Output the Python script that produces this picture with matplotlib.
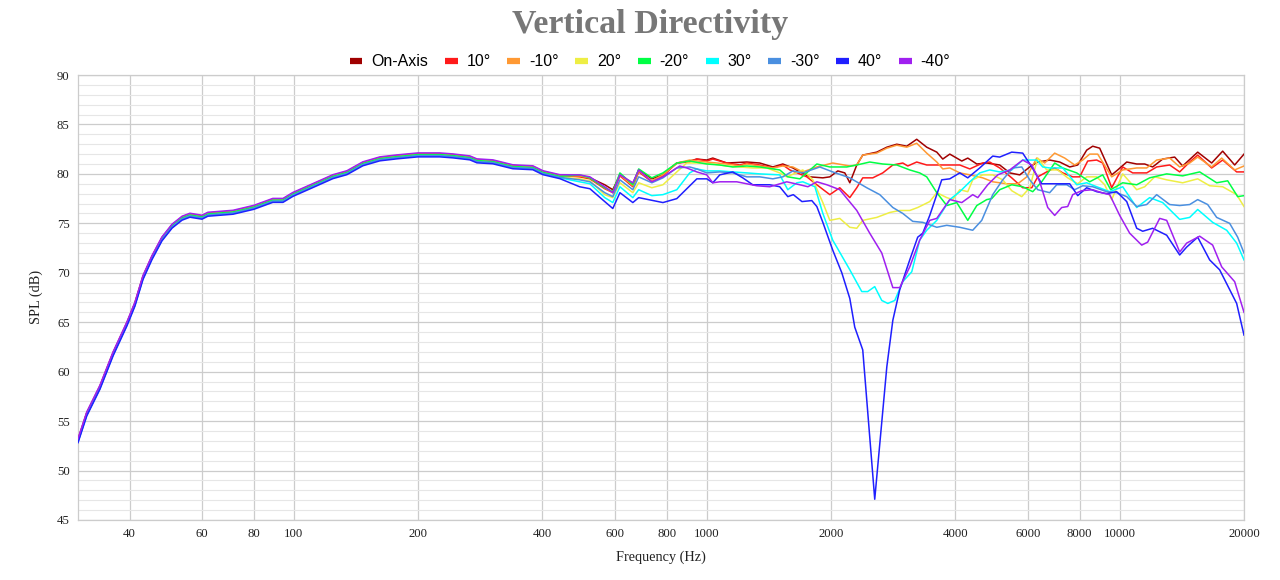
import matplotlib
matplotlib.use("Agg")
import matplotlib.pyplot as plt
from matplotlib.lines import Line2D
from matplotlib.ticker import FixedLocator, NullLocator

# below ~450 Hz all angles sit on top of each other (values of the on-axis curve)
low_freq = [30, 31.5, 33.9, 36.5, 39.4, 41.2, 43.1, 45.3, 47.9, 50.7, 53.6, 56, 59.9, 61.9, 71.2, 80,
            88.9, 94.1, 99.4, 111.2, 124.3, 134.4, 146.9, 161.5, 177.6, 199.7, 225.6, 242.7, 266.7,
            277.4, 303.3, 339, 379, 401, 440.6]
low_spl = [53.1, 55.8, 58.5, 61.9, 64.9, 66.9, 69.6, 71.6, 73.5, 74.8, 75.6, 75.9, 75.7, 76.0, 76.2, 76.7,
           77.4, 77.4, 78.0, 78.9, 79.8, 80.2, 81.1, 81.6, 81.8, 82.0, 82.0, 81.9, 81.7,
           81.4, 81.3, 80.8, 80.7, 80.2, 79.8]

names = ['On-Axis', '10°', '-10°', '20°', '-20°', '30°', '-30°', '40°', '-40°']
colors = ['#a00000', '#ff1a1a', '#ff9933', '#eeee44', '#00ff44', '#00ffff', '#4a8fe0', '#1f1fff', '#a020f0']
# small spread of the angles inside the low band
low_shift = [0.0, 0.05, 0.0, -0.1, -0.05, -0.2, -0.15, -0.28, 0.12]

f_on = [492, 521, 566, 592, 616, 662, 684, 736, 783, 846, 909, 946, 1000, 1034, 1118, 1250, 1344, 1445, 1528, 1616,
        1680, 1777, 1910, 1986, 2076, 2159, 2220, 2308, 2386, 2580, 2729, 2884, 3050, 3224, 3409, 3606, 3728, 3877,
        4145, 4286, 4507, 4764, 5121, 5416, 5727, 6055, 6331, 6768, 7156, 7568, 7912, 8318, 8602, 8944, 9563, 9890,
        10399, 10995, 11496, 12019, 12707, 13588, 14207, 15449, 16700, 17758, 18986, 20000]
db_on = [79.8, 79.6, 78.9, 78.4, 79.9, 79.0, 80.4, 79.5, 79.9, 81.1, 81.3, 81.5, 81.4, 81.6, 81.1, 81.2, 81.1, 80.7, 81.0, 80.6,
         80.2, 79.7, 79.6, 79.7, 80.3, 80.1, 79.1, 80.9, 81.9, 82.2, 82.7, 83.0, 82.8, 83.5, 82.7, 82.2, 81.5, 82.0,
         81.3, 81.6, 81.0, 81.1, 80.9, 80.1, 79.9, 80.7, 81.2, 81.4, 81.2, 80.7, 80.9, 82.4, 82.8, 82.6, 79.9, 80.4,
         81.2, 81.0, 81.0, 80.7, 81.5, 81.7, 80.8, 82.2, 81.1, 82.3, 80.9, 82.0]

f_p10 = [492, 521, 566, 592, 616, 662, 684, 736, 783, 846, 909, 946, 1000, 1034, 1118, 1202, 1250, 1344, 1445, 1528,
         1589, 1747, 1847, 1986, 2099, 2220, 2308, 2386, 2523, 2668, 2822, 2983, 3067, 3224, 3409, 3606, 3877, 4099,
         4335, 4659, 4843, 5121, 5476, 5823, 6124, 6331, 6656, 6959, 7278, 7695, 8000, 8366, 8796, 9095, 9563, 10169,
         10752, 11625, 12289, 13215, 13972, 14774, 15449, 16700, 17758, 19198, 20000]
db_p10 = [79.7, 79.5, 78.5, 78.1, 79.8, 78.7, 80.2, 79.2, 79.8, 81.1, 81.2, 81.5, 81.3, 81.5, 81.1, 80.9, 81.1, 80.9, 80.6, 80.9,
          80.4, 79.7, 78.9, 77.9, 78.6, 77.6, 78.6, 79.6, 79.6, 80.1, 80.9, 81.1, 80.8, 81.2, 80.9, 80.9, 80.9, 80.9,
          80.5, 81.1, 81.2, 80.6, 79.6, 78.6, 78.6, 79.7, 80.2, 80.6, 80.1, 79.7, 79.7, 81.3, 81.4, 81.1, 78.6, 80.7,
          80.1, 80.1, 80.7, 80.9, 80.2, 81.2, 81.9, 80.6, 81.4, 80.2, 80.2]

f_m10 = [492, 521, 566, 592, 616, 662, 684, 736, 783, 846, 909, 1000, 1118, 1202, 1250, 1344, 1445, 1528, 1616, 1708,
         1847, 2018, 2220, 2308, 2386, 2580, 2729, 2884, 3050, 3224, 3409, 3606, 3728, 3877, 4099, 4335, 4659, 4926,
         5326, 5663, 5954, 6295, 6582, 6959, 7359, 7781, 8136, 8459, 8845, 9563, 10169, 10995, 11625, 12289, 13215,
         13972, 14774, 15449, 16700, 17660, 18986, 20000]
db_m10 = [79.8, 79.6, 78.6, 78.1, 79.9, 78.8, 80.3, 79.3, 79.9, 81.1, 81.4, 81.2, 81.0, 80.8, 81.0, 80.8, 80.6, 80.8, 80.7, 80.2,
          80.7, 81.1, 80.8, 80.9, 81.9, 82.1, 82.6, 82.9, 82.7, 83.1, 82.1, 81.2, 80.5, 80.6, 80.1, 79.9, 79.6, 79.2,
          79.0, 79.0, 79.7, 81.6, 81.1, 82.1, 81.6, 80.9, 81.4, 82.0, 82.0, 79.7, 80.4, 80.6, 80.6, 81.4, 81.6,
          80.7, 81.1, 81.7, 80.7, 81.6, 80.4, 80.8]

f_p20 = [492, 521, 566, 592, 616, 662, 684, 736, 783, 846, 894, 946, 1034, 1118, 1202, 1292, 1397, 1502, 1562, 1708,
         1806, 1910, 1986, 2099, 2220, 2308, 2386, 2580, 2775, 2933, 3101, 3242, 3467, 3606, 3812, 3942, 4099, 4286,
         4406, 4659, 4926, 5208, 5476, 5791, 6055, 6331, 6656, 7078, 7483, 7912, 8318, 8796, 9197, 9563, 10169,
         10995, 11496, 12153, 12995, 14207, 15449, 16515, 17758, 19198, 20000]
db_p20 = [79.5, 79.3, 77.9, 77.6, 79.1, 78.1, 79.1, 78.6, 78.9, 80.2, 81.1, 81.1, 81.0, 80.8, 80.7, 80.6, 80.6, 80.1, 79.7, 80.4,
          79.4, 77.1, 75.3, 75.5, 74.6, 74.5, 75.3, 75.6, 76.1, 76.3, 76.3, 76.6, 77.2, 78.1, 77.6, 77.4, 78.4, 78.2,
          79.4, 79.9, 79.9, 79.4, 78.3, 77.7, 78.6, 81.6, 80.4, 80.4, 79.6, 79.0, 79.7, 79.7, 78.9, 77.4, 80.0,
          78.4, 78.7, 79.7, 79.4, 79.1, 79.5, 78.8, 78.7, 77.9, 76.7]

f_m20 = [492, 521, 566, 592, 616, 662, 684, 736, 783, 846, 909, 1000, 1075, 1156, 1250, 1344, 1502, 1571, 1680, 1847,
         1986, 2183, 2308, 2481, 2668, 2884, 3101, 3278, 3409, 3606, 3812, 4031, 4286, 4507, 4764, 4898, 5121, 5476,
         5823, 6157, 6473, 6959, 7278, 7868, 8459, 9095, 9510, 10169, 10995, 11818, 12995, 14207, 15620, 17172,
         18260, 19307, 20000]
db_m20 = [79.9, 79.6, 78.6, 78.2, 80.1, 78.9, 80.5, 79.6, 80.1, 81.1, 81.3, 81.0, 80.9, 80.7, 80.8, 80.7, 80.4, 79.7, 79.5, 81.0,
          80.7, 80.7, 80.9, 81.2, 81.0, 80.9, 80.4, 80.1, 79.7, 78.1, 76.8, 77.1, 75.3, 76.8, 77.4, 77.5, 78.4, 78.9,
          78.7, 78.2, 79.2, 81.1, 80.6, 80.1, 79.2, 79.9, 78.4, 79.1, 78.9, 79.6, 80.0, 79.8, 80.2, 79.1,
          79.3, 77.7, 77.8]

f_p30 = [492, 521, 566, 592, 616, 662, 684, 736, 783, 846, 909, 946, 1000, 1075, 1156, 1250, 1344, 1502, 1571, 1652,
         1708, 1827, 1910, 2018, 2064, 2220, 2373, 2453, 2551, 2653, 2744, 2853, 2983, 3136, 3278, 3409, 3606, 3877,
         4099, 4335, 4581, 4843, 5121, 5476, 5823, 6295, 6510, 6768, 7278, 7868, 8318, 8796, 9458, 10169, 10995,
         11818, 12707, 13972, 14774, 15449, 16792, 18159, 19198, 20000]
db_p30 = [79.2, 79.0, 77.6, 77.1, 78.7, 77.6, 78.4, 77.8, 77.9, 78.4, 80.1, 80.5, 80.3, 80.3, 80.2, 80.1, 80.0, 79.9, 78.4, 79.1,
          79.2, 78.7, 76.0, 73.3, 72.6, 70.3, 68.1, 68.1, 68.6, 67.2, 66.9, 67.2, 69.1, 70.1, 73.3, 74.3, 75.3, 77.4,
          78.2, 79.2, 80.1, 80.4, 80.2, 80.4, 81.4, 81.4, 80.7, 80.6, 80.6, 78.9, 79.1, 78.7, 78.2, 78.7, 76.6,
          77.6, 77.1, 75.4, 75.6, 76.4, 75.1, 74.3, 73.0, 71.3]

f_m30 = [492, 521, 566, 592, 616, 662, 684, 736, 783, 846, 909, 946, 1000, 1075, 1156, 1250, 1344, 1445, 1528, 1616,
         1708, 1878, 2018, 2220, 2440, 2624, 2822, 2983, 3153, 3334, 3606, 3812, 4099, 4406, 4633, 4926, 5208, 5508,
         5791, 6055, 6331, 6768, 7038, 7442, 7781, 8136, 8602, 9300, 9833, 10399, 10995, 11625, 12289, 13215, 13972,
         14774, 15449, 16333, 17172, 18463, 19307, 20000]
db_m30 = [79.4, 79.2, 78.1, 77.7, 79.4, 78.4, 79.7, 79.1, 79.6, 80.6, 80.7, 80.5, 80.1, 80.2, 80.1, 79.7, 79.7, 79.5, 79.7, 80.3,
          80.1, 80.7, 80.2, 79.6, 78.6, 77.9, 76.6, 76.0, 75.2, 75.1, 74.6, 74.8, 74.6, 74.3, 75.3, 77.9, 79.4, 80.6,
          80.7, 79.4, 78.4, 78.1, 78.9, 78.9, 78.4, 78.8, 78.7, 78.2, 78.1, 77.7, 76.7, 76.9, 77.9, 76.9, 76.8,
          76.9, 77.4, 76.9, 75.6, 75.0, 73.6, 72.0]

f_p40 = [492, 521, 566, 592, 616, 662, 684, 783, 846, 946, 1000, 1034, 1075, 1156, 1222, 1292, 1421, 1502, 1571, 1620,
         1700, 1796, 1847, 1910, 2018, 2123, 2220, 2282, 2386, 2551, 2729, 2822, 2933, 3101, 3242, 3334, 3467, 3707,
         3877, 4099, 4286, 4581, 4926, 5121, 5476, 5823, 6124, 6473, 7038, 7568, 7912, 8318, 8796, 9300, 9833,
         10399, 10995, 11369, 12019, 12995, 13972, 14528, 15449, 16515, 17460, 18463, 19198, 20000]
db_p40 = [78.7, 78.5, 77.2, 76.5, 78.1, 77.1, 77.6, 77.1, 77.5, 79.5, 79.5, 79.1, 79.9, 80.2, 79.6, 78.9, 78.9, 78.7, 77.7, 77.9,
          77.2, 77.3, 76.7, 75.1, 72.3, 70.0, 67.4, 64.5, 62.2, 47.1, 60.5, 65.2, 68.3, 71.3, 73.6, 74.0, 75.8, 79.4,
          79.5, 80.1, 79.6, 80.6, 81.8, 81.7, 82.2, 82.1, 80.7, 79.0, 79.0, 79.0, 77.8, 78.6, 78.2, 78.0, 78.2,
          77.2, 74.5, 74.2, 74.5, 73.8, 71.8, 72.6, 73.6, 71.3, 70.3, 68.3, 66.9, 63.7]

f_m40 = [492, 521, 566, 592, 616, 662, 684, 736, 783, 860, 894, 946, 1000, 1034, 1075, 1182, 1321, 1421, 1562, 1680,
         1757, 1847, 1953, 2099, 2308, 2481, 2653, 2822, 2933, 3101, 3278, 3467, 3606, 3877, 4145, 4406, 4532, 4790,
         5065, 5416, 5823, 6124, 6402, 6694, 6959, 7237, 7483, 7695, 8091, 8602, 9044, 9458, 10000, 10573, 11306,
         11689, 12497, 12995, 13972, 14528, 15620, 16792, 17660, 18986, 20000]
db_m40 = [79.9, 79.7, 78.7, 78.1, 79.9, 79.1, 80.4, 79.2, 79.7, 80.8, 80.6, 80.2, 79.9, 79.1, 79.2, 79.2, 78.8, 78.7, 79.2, 78.9,
          78.7, 79.2, 78.9, 78.4, 76.3, 74.0, 72.0, 68.5, 68.5, 70.6, 73.3, 75.3, 75.5, 77.4, 77.1, 77.9, 77.6, 78.9,
          79.9, 80.4, 81.4, 80.9, 79.2, 76.6, 75.8, 76.6, 76.7, 77.9, 78.3, 78.4, 78.1, 77.9, 75.8, 74.0, 72.8,
          73.1, 75.5, 75.3, 72.1, 73.0, 73.7, 72.8, 70.6, 69.1, 66.0]

high_f = [f_on, f_p10, f_m10, f_p20, f_m20, f_p30, f_m30, f_p40, f_m40]
high_db = [db_on, db_p10, db_m10, db_p20, db_m20, db_p30, db_m30, db_p40, db_m40]

xticks = [40, 60, 80, 100, 200, 400, 600, 800, 1000, 2000, 4000, 6000, 8000, 10000, 20000]


fig = plt.figure(figsize=(12.8, 5.8), dpi=100)
ax = fig.add_axes([78/1280, 60/580, 1166/1280, 445/580])

for i in range(len(names)):
    xs = low_freq + high_f[i]
    ys = [v + low_shift[i] for v in low_spl] + high_db[i]
    ax.plot(xs, ys, color=colors[i], lw=1.1, zorder=3)

ax.set_xscale('log')
ax.set_xlim(30, 20000)
ax.set_ylim(45, 90)
ax.xaxis.set_major_locator(FixedLocator(xticks))
ax.xaxis.set_minor_locator(NullLocator())
ax.set_xticklabels([str(t) for t in xticks])
ax.set_yticks(range(45, 91, 5))
ax.set_yticks(range(45, 91), minor=True)
ax.grid(which='major', color='#cccccc', lw=0.9, zorder=0)
ax.grid(which='minor', axis='y', color='#e6e6e6', lw=0.8, zorder=0)
ax.set_axisbelow(True)
ax.tick_params(which='both', length=0)
ax.tick_params(axis='x', pad=6)
ax.tick_params(axis='y', pad=6)
for lab in ax.get_xticklabels() + ax.get_yticklabels():
    lab.set_fontfamily('Liberation Serif')
    lab.set_fontsize(9.2)
    lab.set_color('#222222')
for s in ax.spines.values():
    s.set_color('#cccccc')
    s.set_linewidth(0.9)

fig.text(650/1280, 1 - 33/580, 'Vertical Directivity', ha='center', va='baseline',
         fontsize=24.5, fontweight='bold', family='Liberation Serif', color='#777777')
fig.text(661/1280, 1 - 561/580, 'Frequency (Hz)', ha='center', va='baseline',
         fontsize=10.3, family='Liberation Serif', color='#222222')
fig.text(36/1280, 1 - 297/580, 'SPL (dB)', ha='center', va='center', rotation=90,
         fontsize=10.3, family='Liberation Serif', color='#222222')

handles = [Line2D([], [], color=c, lw=4.5, solid_capstyle='butt') for c in colors]
fig.legend(handles, names, loc='center', bbox_to_anchor=(650/1280, 1 - 62/580), ncol=9,
           frameon=False, handlelength=0.8, handletextpad=0.55, columnspacing=1.05,
           prop={'family': 'Liberation Sans', 'size': 11.5})

fig.savefig('out.png', dpi=100)
